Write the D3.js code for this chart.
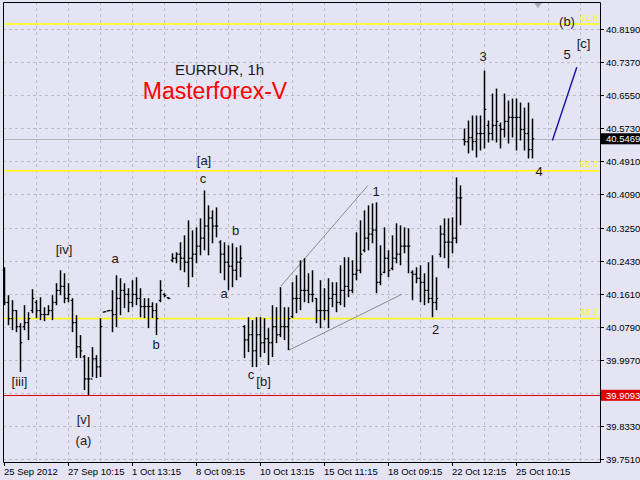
<!DOCTYPE html>
<html><head><meta charset="utf-8">
<script src="https://cdn.jsdelivr.net/npm/d3@7"></script>
<style>body{margin:0;background:#E4E4F4}svg{display:block}</style>
</head><body><svg id="c" width="640" height="480"></svg>
<script>
const highs=[40.2276,40.1581,40.1457,40.1209,40.0886,40.1333,40.1159,40.1730,40.1457,40.1531,
 40.1283,40.1333,40.1581,40.1879,40.2201,40.2127,40.1879,40.1507,40.1085,40.0589,
 40.0092,40.0043,40.0291,40.0092,40.1010,40.1184,40.1209,40.1705,40.2077,40.2003,
 40.1879,40.1755,40.1953,40.2028,40.1755,40.1507,40.1507,40.1407,40.1383,40.1953,
 40.1631,40.1531,40.2623,40.2648,40.2896,40.3070,40.3442,40.3194,40.3268,40.3491,
 40.4186,40.3814,40.3690,40.3764,40.2946,40.2896,40.2822,40.2871,40.2772,40.2822,
 40.0837,40.1035,40.0961,40.1035,40.1035,40.1010,40.0762,40.1333,40.1283,40.1780,
 40.1283,40.1283,40.1904,40.2077,40.2449,40.2499,40.2127,40.2201,40.1507,40.1953,
 40.1755,40.2003,40.1904,40.1904,40.2325,40.2524,40.2524,40.2449,40.3144,40.3442,
 40.3690,40.3814,40.3864,40.3888,40.2822,40.3268,40.2697,40.3070,40.3367,40.3318,
 40.3268,40.3243,40.2201,40.2276,40.2325,40.2127,40.2400,40.2573,40.2028,40.3318,
 40.3491,40.3491,40.3516,40.4509,40.4310,40.5724,40.5923,40.6047,40.6047,40.6047,
 40.7163,40.5923,40.6593,40.6717,40.5873,40.6593,40.6419,40.6469,40.6469,40.6369,
 40.6245,40.6369,40.5972];
const lows=[40.1333,40.0837,40.0713,40.0663,39.9671,40.0713,40.0465,40.1134,40.1010,40.0961,
 40.0936,40.1085,40.0961,40.1333,40.1581,40.1383,40.1407,40.0663,40.0018,40.0018,
 39.9224,39.9100,39.9547,39.9522,39.9547,40.1159,40.1184,40.0663,40.0787,40.1085,
 40.1259,40.1159,40.1283,40.1333,40.1035,40.1010,40.0762,40.1010,40.0589,40.1407,
 40.1531,40.1482,40.2400,40.2375,40.2201,40.2152,40.1780,40.2028,40.2375,40.2573,
 40.2697,40.2573,40.2871,40.3020,40.2127,40.1953,40.1705,40.1780,40.1953,40.2028,
 40.0018,40.0167,39.9795,39.9795,40.0043,40.0142,39.9844,40.0043,40.0390,40.0539,
 40.0465,40.0216,40.1010,40.1134,40.1209,40.1407,40.1383,40.1407,40.0886,40.0762,
 40.0961,40.0762,40.1283,40.1159,40.1333,40.1283,40.1531,40.1631,40.1953,40.2127,
 40.2648,40.2697,40.2871,40.1631,40.1829,40.2127,40.2028,40.2201,40.2375,40.2325,
 40.2623,40.2127,40.1457,40.1879,40.1407,40.1333,40.1383,40.1035,40.1209,40.2524,
 40.2499,40.2251,40.2623,40.2871,40.3318,40.5303,40.5104,40.5178,40.5005,40.5178,
 40.5228,40.5377,40.5427,40.5377,40.5228,40.5501,40.5352,40.5501,40.5178,40.5427,
 40.5178,40.4980,40.4980];
const opens=[40.220,40.140,40.100,40.120,40.080,40.080,40.090,40.120,40.140,40.120,
 40.110,40.110,40.120,40.140,40.170,40.180,40.150,40.145,40.090,40.030,
 40.005,39.950,39.950,40.000,39.980,40.116,40.119,40.120,40.110,40.150,
 40.170,40.160,40.140,40.160,40.150,40.130,40.130,40.130,40.120,40.145,
 40.160,40.152,40.245,40.250,40.260,40.250,40.240,40.250,40.260,40.280,
 40.300,40.330,40.350,40.330,40.290,40.260,40.240,40.230,40.220,40.240,
 40.080,40.047,40.060,40.020,40.060,40.040,40.050,40.040,40.080,40.060,
 40.080,40.080,40.105,40.150,40.150,40.170,40.170,40.160,40.150,40.120,
 40.120,40.120,40.150,40.160,40.140,40.170,40.180,40.170,40.210,40.220,
 40.270,40.300,40.310,40.320,40.190,40.215,40.250,40.225,40.250,40.260,
 40.280,40.280,40.215,40.210,40.200,40.190,40.170,40.150,40.140,40.260,
 40.310,40.290,40.290,40.300,40.400,40.545,40.540,40.550,40.540,40.560,
 40.560,40.580,40.560,40.580,40.580,40.570,40.590,40.600,40.600,40.600,
 40.570,40.560,40.520];
const closes=[40.140,40.100,40.120,40.080,40.040,40.090,40.100,40.150,40.120,40.110,
 40.110,40.120,40.140,40.170,40.180,40.150,40.160,40.090,40.030,40.020,
 39.950,39.950,40.000,39.980,40.080,40.117,40.120,40.110,40.150,40.170,
 40.160,40.140,40.160,40.150,40.130,40.130,40.130,40.120,40.100,40.170,
 40.157,40.150,40.250,40.260,40.250,40.240,40.250,40.260,40.280,40.300,
 40.330,40.350,40.330,40.330,40.260,40.240,40.230,40.220,40.240,40.250,
 40.047,40.060,40.020,40.060,40.040,40.050,40.040,40.080,40.060,40.080,
 40.080,40.100,40.150,40.150,40.170,40.170,40.160,40.160,40.120,40.120,
 40.120,40.150,40.160,40.140,40.170,40.180,40.170,40.210,40.220,40.260,
 40.300,40.310,40.320,40.190,40.210,40.250,40.220,40.250,40.260,40.280,
 40.280,40.280,40.210,40.200,40.190,40.170,40.150,40.140,40.150,40.310,
 40.290,40.290,40.300,40.400,40.400,40.540,40.550,40.540,40.560,40.560,
 40.620,40.560,40.580,40.590,40.570,40.590,40.600,40.600,40.600,40.570,
 40.560,40.520,40.5469];

const dateLabels=["25 Sep 2012","27 Sep 10:15","1 Oct 13:15","8 Oct 09:15","10 Oct 13:15","15 Oct 11:15","18 Oct 09:15","22 Oct 12:15","25 Oct 10:15"];
const dateIdx=[0,16,32,48,64,80,96,112,128];
const priceTicks=[40.8190,40.7370,40.6550,40.5730,40.4910,40.4090,40.3250,40.2430,40.1610,40.0790,39.9970,39.9150,39.8330,39.7510];
const priceLabels=["40.8190","40.7370","40.6550","40.5730","40.4910","40.4090","40.3250","40.2430","40.1610","40.0790","39.9970","","39.8330","39.7510"];
const fibLevels=[40.832,40.4674,40.1001];
const fibNames=["61.8","50.0","38.2"];
const currentPrice=40.5469, lowPrice=39.9093;
const wedgeUpper=[[69.2,40.1804],[91,40.4310]];
const wedgeLower=[[71.25,40.0216],[99.5,40.1606]];
const projection=[[137.1,40.5427],[143.2,40.7245]];
const waveText=["[iv]","a","[iii]","b","[v]","(a)","[a]","c","b","a","c","[b]","1","2","3","4","5","[c]","(b)"];
const waveIdx=[15,27.75,3.875,38,19.875,19.875,50,49.75,57.9,55,61.75,64.9,93,107.9,119.75,133.75,140.75,144.9,140.75];
const waveVal=[40.2598,40.2375,39.9323,40.0241,39.8380,39.7859,40.4806,40.4360,40.3070,40.1507,39.9497,39.9323,40.4037,40.0613,40.7411,40.4533,40.7461,40.7734,40.8280];

const svg=d3.select("#c");
const font="'Liberation Sans', Arial, sans-serif";
const L=3,R=600,T=2,B=462;
const x=d3.scaleLinear().domain([0,149]).range([4,600]);
const y=d3.scaleLinear().domain([39.751,40.819]).range([459,29.3]);

svg.append("rect").attr("width",640).attr("height",480).attr("fill","#E4E4F4");

// grid
const g=svg.append("g");
g.selectAll("line.v").data(d3.range(8,149,8)).join("line")
 .attr("x1",d=>x(d)+0.5).attr("x2",d=>x(d)+0.5).attr("y1",T).attr("y2",B)
 .attr("stroke","#BDBDC4").attr("stroke-dasharray","3,3");
g.selectAll("line.h").data(priceTicks).join("line")
 .attr("x1",L).attr("x2",R).attr("y1",d=>Math.round(y(d))+0.5).attr("y2",d=>Math.round(y(d))+0.5)
 .attr("stroke","#BDBDC4").attr("stroke-dasharray","3,3");

// current price line
svg.append("line").attr("x1",L).attr("x2",R).attr("y1",Math.round(y(currentPrice))+0.5).attr("y2",Math.round(y(currentPrice))+0.5)
 .attr("stroke","#B4B4B8");
// low line red
svg.append("line").attr("x1",L).attr("x2",R).attr("y1",Math.round(y(lowPrice))+0.5).attr("y2",Math.round(y(lowPrice))+0.5)
 .attr("stroke","#E00000").attr("stroke-width",1.2);
// fib lines
svg.selectAll("line.fib").data(fibLevels).join("line")
 .attr("x1",L).attr("x2",R).attr("y1",d=>y(d)).attr("y2",d=>y(d))
 .attr("stroke","#FFFF00").attr("stroke-width",1.6);
svg.selectAll("text.fib").data(fibLevels).join("text")
 .attr("x",x(148.6)).attr("y",d=>y(d)-3.5).attr("text-anchor","end")
 .attr("font-family",font).attr("font-size",9.5).attr("fill","#FFFF00").text((d,i)=>fibNames[i]);

// wedge lines
const line=d3.line().x(d=>x(d[0])).y(d=>y(d[1]));
[wedgeUpper,wedgeLower].forEach(w=>svg.append("path").attr("d",line(w)).attr("fill","none").attr("stroke","#8C8C8C").attr("stroke-width",1));
svg.append("path").attr("d",line(projection)).attr("fill","none").attr("stroke","#14149A").attr("stroke-width",1.4);

// bars
const bars=svg.append("g").attr("stroke","#000");
highs.forEach((h,i)=>{
  const cx=x(i)+0.5;
  bars.append("line").attr("x1",cx).attr("x2",cx).attr("y1",y(h)).attr("y2",Math.max(y(lows[i]),y(h)+1)).attr("stroke-width",1.5);
  bars.append("line").attr("x1",cx-1.8).attr("x2",cx).attr("y1",y(opens[i])).attr("y2",y(opens[i])).attr("stroke-width",1.2);
  bars.append("line").attr("x1",cx).attr("x2",cx+1.8).attr("y1",y(closes[i])).attr("y2",y(closes[i])).attr("stroke-width",1.2);
});

// wave labels
svg.selectAll("text.w").data(waveText).join("text")
 .attr("x",(d,i)=>x(waveIdx[i])).attr("y",(d,i)=>y(waveVal[i]))
 .attr("text-anchor","middle").attr("font-family",font).attr("font-size",13).attr("fill","#1A1A1A").text(d=>d);

// titles
svg.append("text").attr("x",219.5).attr("y",75).attr("text-anchor","middle").attr("font-family",font)
 .attr("font-size",15).attr("fill","#1A1A1A").text("EURRUR, 1h");
svg.append("text").attr("x",215).attr("y",99).attr("text-anchor","middle").attr("font-family",font)
 .attr("font-size",23).attr("fill","#FF0000").text("Masterforex-V");

// frame
svg.append("path").attr("d",`M${L+0.5},${B+0.5}V${T+0.5}H${R+0.5}V${B+0.5}H${L+0.5}`).attr("fill","none").attr("stroke","#000");
// top marker
svg.append("path").attr("d",`M${x(133.5)-4},${T+1}L${x(133.5)+4},${T+1}L${x(133.5)},${T+6}Z`).attr("fill","#A8A8B0");

// right axis
const ra=svg.append("g");
priceTicks.forEach((v,i)=>{
  if(!priceLabels[i]) return;
  const yy=Math.round(y(v))+0.5;
  ra.append("line").attr("x1",R).attr("x2",R+4).attr("y1",yy).attr("y2",yy).attr("stroke","#000");
  ra.append("text").attr("x",606).attr("y",yy).attr("dy","0.35em").attr("font-family",font).attr("font-size",9.5).attr("fill","#000").text(priceLabels[i]);
});
function tag(v,bg){
  const yy=y(v);
  ra.append("rect").attr("x",R+1).attr("y",yy-5.5).attr("width",40).attr("height",11).attr("fill",bg);
  ra.append("text").attr("x",606).attr("y",yy).attr("dy","0.35em").attr("font-family",font).attr("font-size",9.5).attr("fill","#fff").text(v.toFixed(4));
}
tag(currentPrice,"#000");
tag(lowPrice,"#E00000");

// bottom axis
dateIdx.forEach((d,i)=>{
  const xx=Math.round(x(d))+0.5;
  svg.append("line").attr("x1",xx).attr("x2",xx).attr("y1",B).attr("y2",B+4).attr("stroke","#000");
  svg.append("text").attr("x",x(d)).attr("y",474.5).attr("font-family",font).attr("font-size",9.5).attr("fill","#000").text(dateLabels[i]);
});
</script></body></html>
